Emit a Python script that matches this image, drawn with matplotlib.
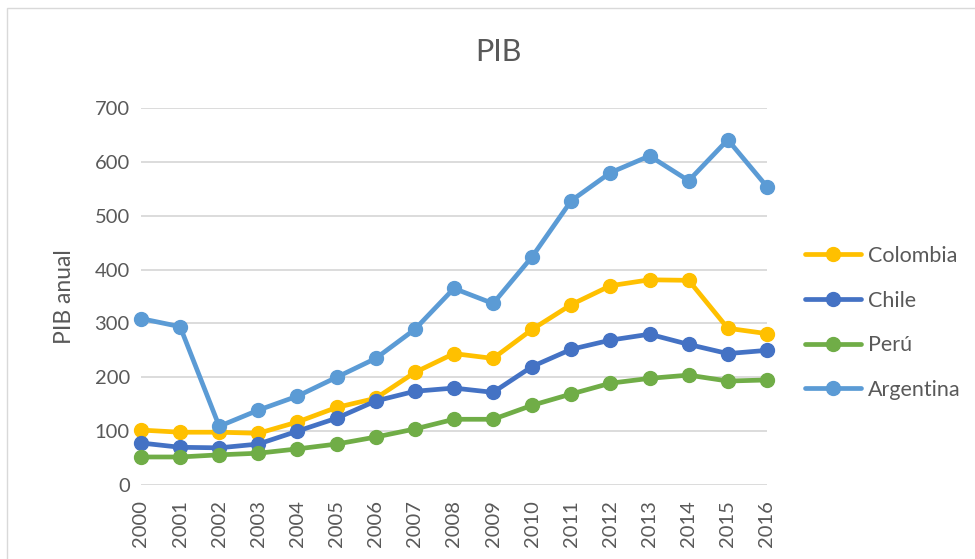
import matplotlib.pyplot as plt
from matplotlib.patches import Rectangle

plt.rcParams["font.family"] = ["Lato", "DejaVu Sans"]

TEXT = "#595959"
GRID = "#D9D9D9"

years = list(range(2000, 2017))
colombia = [102, 98, 98, 96, 117, 144, 161, 209, 244, 235, 289, 335, 370, 381, 380, 291, 281]
chile = [78, 70, 69, 76, 100, 124, 156, 174, 180, 172, 220, 252, 269, 280, 261, 244, 250]
peru = [52, 52, 56, 59, 67, 76, 89, 104, 122, 122, 148, 169, 189, 198, 204, 193, 195]
argentina = [309, 294, 109, 139, 165, 200, 235, 289, 365, 337, 424, 528, 580, 611, 565, 641, 554]

series = [
    ("Colombia", colombia, "#FFC000"),
    ("Chile", chile, "#4472C4"),
    ("Perú", peru, "#70AD47"),
    ("Argentina", argentina, "#5B9BD5"),
]

fig = plt.figure(figsize=(9.75, 5.59), dpi=100)
ax = fig.add_axes([0.1446, 0.1324, 0.642, 0.6744])

# chart area border
fig.patches.append(Rectangle((7 / 975, -0.05), 1.1, 1 - 8 / 559 + 0.05,
                             transform=fig.transFigure, fill=False,
                             edgecolor=GRID, linewidth=1.0))

for name, vals, col in series:
    ax.plot(years, vals, color=col, lw=3.4, marker="o", ms=10,
            label=name, solid_capstyle="round", clip_on=False)

ax.set_xlim(2000, 2016)
ax.set_ylim(0, 700)
ax.set_yticks(range(0, 701, 100))
ax.set_xticks(years)
ax.set_xticklabels([str(y) for y in years], rotation=90)
ax.grid(axis="y", color=GRID, lw=1.3)
ax.set_axisbelow(True)
for s in ax.spines.values():
    s.set_visible(False)
ax.tick_params(length=0, labelsize=14.5, colors=TEXT, pad=8)
ax.tick_params(axis="x", pad=11)

ax.set_ylabel("PIB anual", fontsize=16.5, color=TEXT, labelpad=14)
fig.text(0.511, 0.907, "PIB", ha="center", va="center", fontsize=22, color=TEXT)

leg = ax.legend(loc="center left", bbox_to_anchor=(1.03, 0.43), frameon=False,
                fontsize=15.5, labelcolor=TEXT, handlelength=2.6,
                handletextpad=0.3, labelspacing=1.15, markerscale=1.0)

fig.savefig("out.png", dpi=100)
